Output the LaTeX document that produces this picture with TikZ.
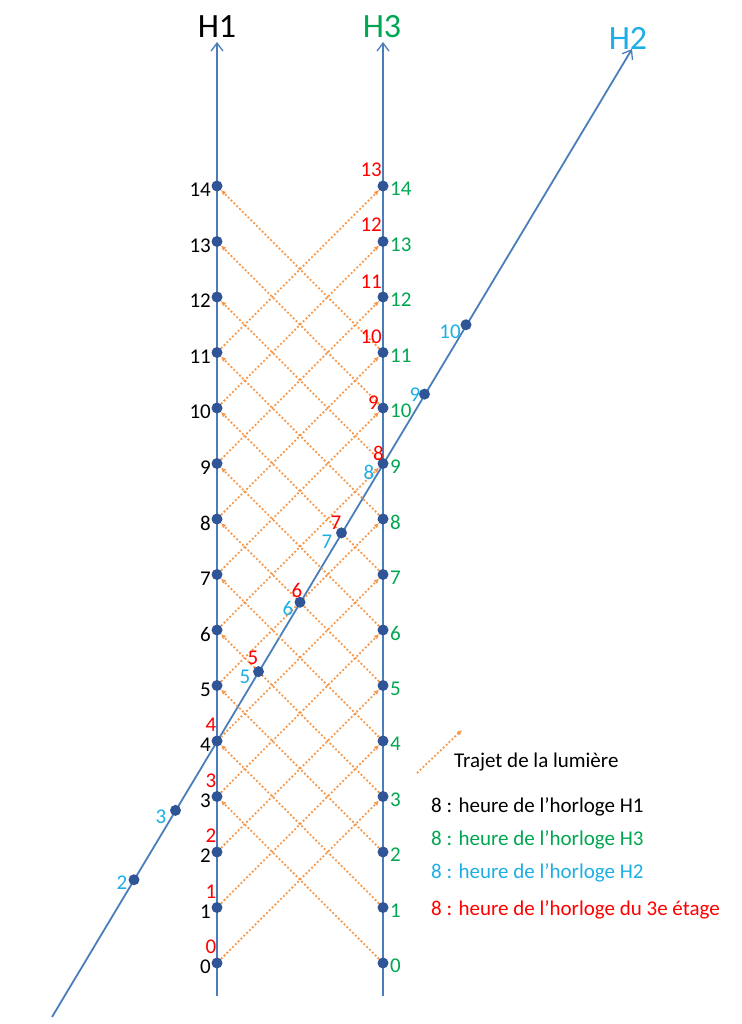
\documentclass[tikz,border=0pt]{standalone}
\usepackage{fontspec}
\setmainfont{Carlito}
\usetikzlibrary{arrows.meta,backgrounds}
\definecolor{axisc}{HTML}{4A7EBB}
\definecolor{dotc}{HTML}{2F5597}
\definecolor{lightc}{HTML}{F79646}
\definecolor{grc}{HTML}{00A651}
\definecolor{cyc}{HTML}{1CAEE4}
\definecolor{rdc}{HTML}{FF0000}
\begin{document}
\begin{tikzpicture}[x=1pt,y=-1pt,
  dotn/.style={circle,fill=dotc,inner sep=0pt,minimum size=11pt},
  axisline/.style={draw=axisc,line width=1.8pt,-{Straight Barb[length=8pt,width=12pt,line width=1.3pt]}},
  lightpath/.style={draw=lightc,line width=1.8pt,dash pattern=on 1.8pt off 2.2pt,-{Latex[length=5pt,width=5pt]}},
  num/.style={font=\fontsize{21}{25}\selectfont,inner sep=0pt},
  head/.style={font=\fontsize{34}{38}\selectfont,inner sep=0pt},
  legend/.style={font=\fontsize{21}{25}\selectfont,inner sep=0pt,anchor=west}]
\useasboundingbox (0,0) rectangle (741,1024);

% clock dots on H1 and H3
\foreach \k in {0,...,14} {
  \node[dotn] (a\k) at (217,{963-55.5*\k}) {};
  \node[dotn] (c\k) at (383,{963-55.5*\k}) {};
  \node[num,anchor=east] (la\k) at (211,{967-55.5*\k}) {\k};
  \node[num,anchor=west,text=grc] (lc\k) at (390,{966-55.5*\k}) {\k};
}
% dots on H2
\foreach \k in {2,3,5,6,7,9,10} {
  \node[dotn] (b\k) at ({217+41.5*(\k-4)},{741-69.375*(\k-4)}) {};
}

% axes
\coordinate (h1b) at (217,996);
\coordinate (h1t) at (217,42);
\coordinate (h3b) at (383,996);
\coordinate (h3t) at (383,42);
\coordinate (h2b) at (52,1017);
\coordinate (h2t) at (632,49);
\begin{scope}[on background layer]
  \draw[axisline] (h1b) -- (h1t);
  \draw[axisline] (h3b) -- (h3t);
  \draw[axisline] (h2b) -- (h2t);
  \foreach \k [evaluate=\k as \m using int(\k+3)] in {0,...,11} {
    \draw[lightpath] (a\k) -- (c\m);
    \draw[lightpath] (c\k) -- (a\m);
  }
\end{scope}

% headers
\node[head] (t1) at (217,27) {H1};
\node[head,text=grc] (t3) at (382,27) {H3};
\node[head,text=cyc] (t2) at (628,38) {H2};

% red labels (3e etage) on H1
\foreach \k in {0,...,4} {
  \node[num,text=rdc] (ra\k) at (211,{963-55.5*\k-16}) {\k};
}
% red labels on H3
\node[num,text=rdc,anchor=east] (r13) at (382,170) {13};
\node[num,text=rdc,anchor=east] (r12) at (382,225) {12};
\node[num,text=rdc,anchor=east] (r11) at (382,282) {11};
\node[num,text=rdc,anchor=east] (r10) at (382,337) {10};
\node[num,text=rdc,anchor=east] (r9) at (379,403) {9};
\node[num,text=rdc,anchor=east] (r8) at (384,453) {8};
% red labels on H2
\node[num,text=rdc] (r5) at (253,658) {5};
\node[num,text=rdc] (r6) at (297,590) {6};
\node[num,text=rdc] (r7) at (336,523) {7};

% cyan labels on H2
\node[num,text=cyc] (q2) at (122,883) {2};
\node[num,text=cyc] (q3) at (161,817) {3};
\node[num,text=cyc] (q5) at (245,677) {5};
\node[num,text=cyc] (q6) at (288,608) {6};
\node[num,text=cyc] (q7) at (327,542) {7};
\node[num,text=cyc] (q8) at (369,472) {8};
\node[num,text=cyc] (q9) at (415,395) {9};
\node[num,text=cyc] (q10) at (450,332) {10};

% legend
\coordinate (lg1) at (417,773);
\coordinate (lg2) at (462,730);
\draw[lightpath] (lg1) -- (lg2);
\node[legend] (L0) at (454,762) {Trajet de la lumière};
\node[legend] (L1) at (431,807) {8 : heure de l’horloge H1};
\node[legend,text=grc] (L2) at (431,840) {8 : heure de l’horloge H3};
\node[legend,text=cyc] (L3) at (431,873) {8 : heure de l’horloge H2};
\node[legend,text=rdc] (L4) at (431,910) {8 : heure de l’horloge du 3e étage};
\end{tikzpicture}
\end{document}
